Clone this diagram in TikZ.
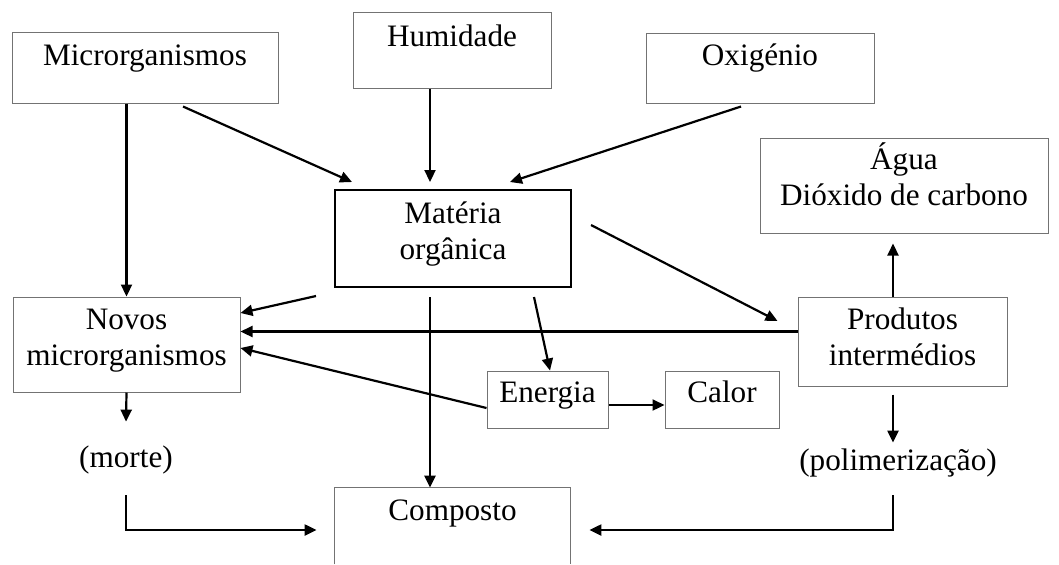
\documentclass[tikz,border=0pt]{standalone}
\usepackage{fontspec}
\setmainfont{Liberation Serif}
\usetikzlibrary{arrows.meta,calc}

\tikzset{
  caixa/.style={draw=black!55, line width=0.5pt, inner sep=0pt, align=center},
  seta/.style={-{Triangle[length=6pt,width=5.5pt]}, line width=1.1pt},
  rotulo/.style={inner sep=0pt, text height=12pt, text depth=4pt, anchor=base},
}

\begin{document}
\begin{tikzpicture}[x=0.5pt, y=-0.5pt, font=\fontsize{15.6pt}{18pt}\selectfont]
    \useasboundingbox (0,0) rectangle (1059,564);

    % Fatores de entrada
    \node[caixa, minimum width=133pt, text height=16.5pt, text depth=19pt] (micro) at (145,67.5) {Microrganismos};
    \node[caixa, minimum width=99pt, text height=17pt, text depth=21pt] (humid) at (452,50) {Humidade};
    \node[caixa, minimum width=114pt, text height=16pt, text depth=19pt] (oxig) at (760,68) {Oxigénio};

    % Caixas centrais
    \node[caixa, draw=black, line width=1pt, minimum width=118pt, text height=34.5pt, text depth=14pt] (materia) at (453,238.5) {Matéria\\orgânica};
    \node[caixa, minimum width=144pt, text height=33.5pt, text depth=14pt] (agua) at (904,185.5) {Água\\Dióxido de carbono};
    \node[caixa, minimum width=113.5pt, text height=34pt, text depth=13.5pt] (novos) at (126.5,344.5) {Novos\\microrganismos};
    \node[caixa, minimum width=104.5pt, text height=34pt, text depth=10.5pt] (produtos) at (902.5,341.5) {Produtos\\intermédios};
    \node[caixa, minimum width=60.5pt, text height=15.75pt, text depth=12.75pt] (energia) at (547.5,399.5) {Energia};
    \node[caixa, minimum width=57pt, text height=15.75pt, text depth=12.75pt] (calor) at (722,399.5) {Calor};

    % Composto (aberto em baixo)
    \node[inner sep=0pt, minimum width=117.5pt, text height=16pt, text depth=22pt] (composto) at (452.5,526) {Composto};
    \draw[black!55, line width=0.5pt] (composto.south west) |- (composto.north east) -- (composto.south east);

    % Rotulos soltos
    \node[rotulo] (morte) at (126,467) {(morte)};
    \node[rotulo] (polim) at (898,470) {(polimerização)};

    % Setas para a materia organica
    \draw[seta] ($(micro.south)+(38,3)$) -- ($(materia.north west)+(18,-7)$);
    \draw[seta] ($(humid.south)+(-22,0)$) -- ($(materia.north)+(-23,-7)$);
    \draw[seta] ($(oxig.south)+(-19,3)$) -- ($(materia.north)+(57,-7)$);

    % Microrganismos
    \draw[seta] (novos.north |- micro.south) -- (novos.north);
    \draw[seta] ($(materia.south west)+(-18,8)$) -- ($(novos.east)+(0,-31.5)$);
    \draw[seta] ($(produtos.west)+(0,-10)$) coordinate (p1) -- (p1 -| novos.east);
    \draw[seta] ($(energia.west)+(0,8.5)$) -- ($(novos.east)+(0,3.5)$);
    \draw[seta] (novos.south) -- ($(morte.north)+(0,-21)$);

    % Materia organica para baixo e para a direita
    \draw[seta] ($(materia.south)+(-23,9)$) coordinate (m1) -- (m1 |- composto.north);
    \draw[seta] ($(materia.south east)+(-38,9)$) -- ($(energia.north)+(2.5,0)$);
    \draw[seta] ($(materia.east)+(19,-13.5)$) -- ($(produtos.west)+(-20,-20.5)$);
    \draw[seta] ($(energia.east)+(0,5.5)$) coordinate (e1) -- (e1 -| calor.west);

    % Produtos intermedios
    \draw[seta] ($(produtos.north)+(-9.5,0)$) coordinate (p2) -- ($(p2 |- agua.south)+(0,10)$);
    \draw[seta] ($(produtos.south)+(-9.5,8)$) coordinate (p3) -- ($(p3 |- polim.north)+(0,-3)$);

    % Para o composto
    \draw[seta] ($(morte.south)+(0,20)$) |- ($(composto.west)+(-18,4)$);
    \draw[seta] ($(polim.south)+(-5,17)$) |- ($(composto.east)+(19,4)$);
\end{tikzpicture}
\end{document}
